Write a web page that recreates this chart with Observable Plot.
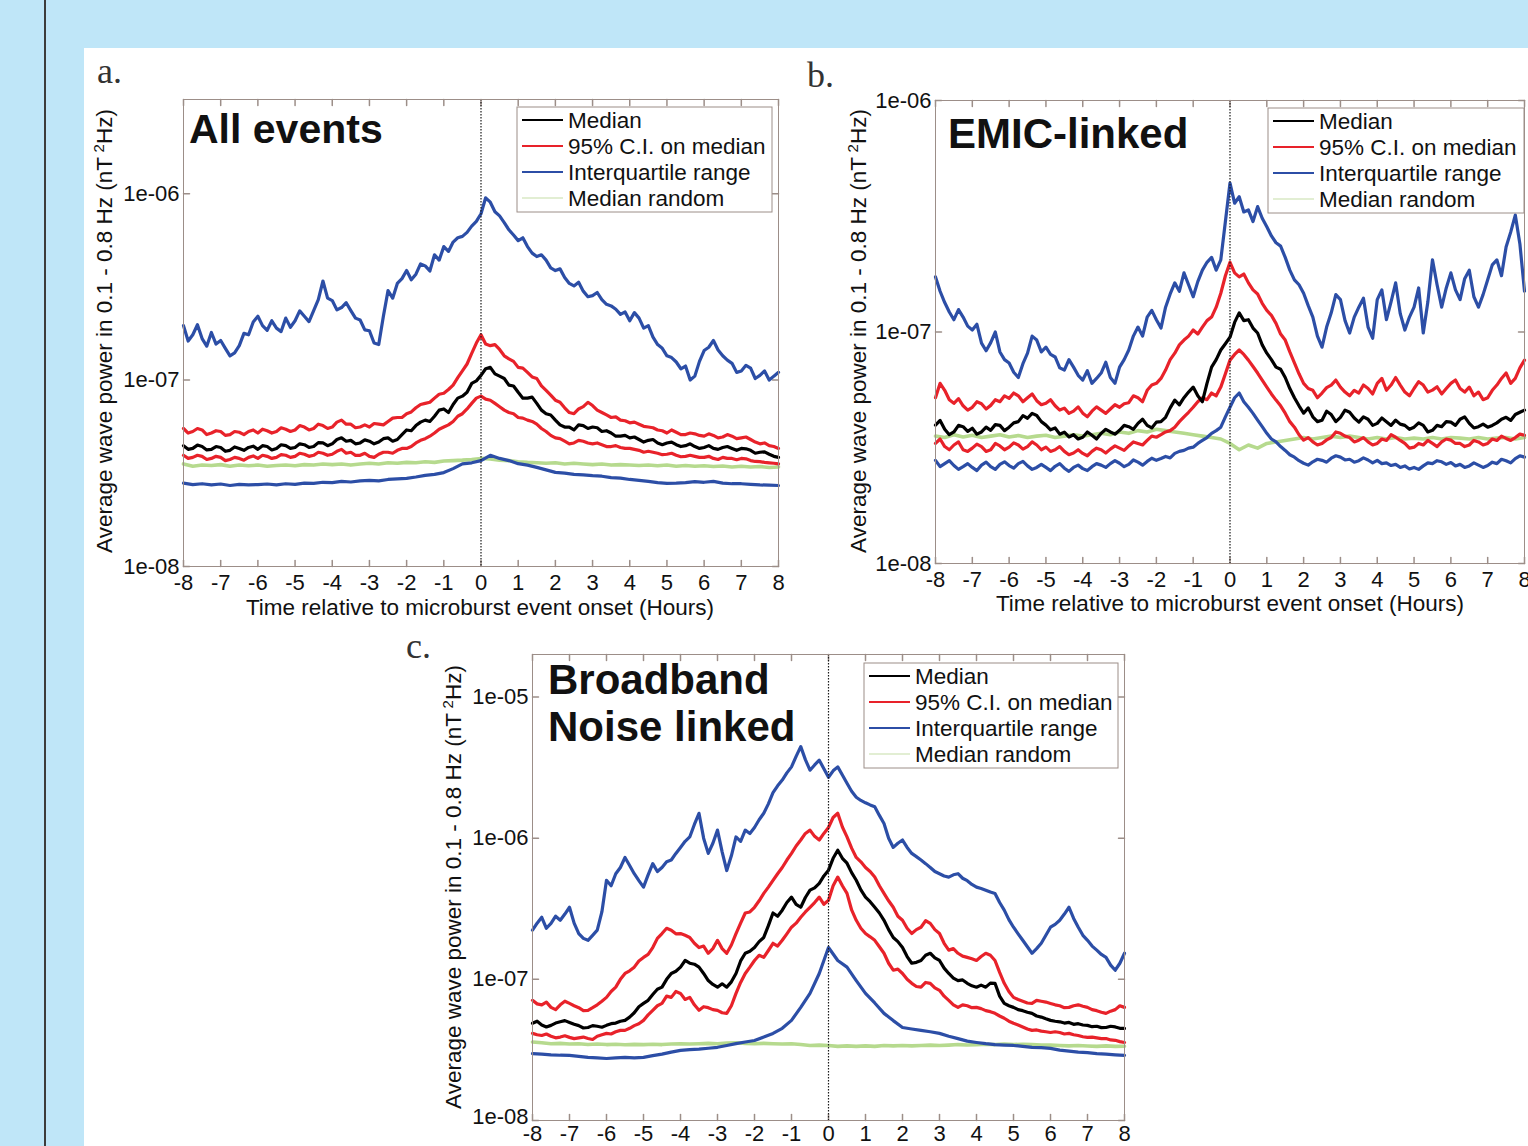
<!DOCTYPE html>
<html>
<head>
<meta charset="utf-8">
<script src="https://cdn.jsdelivr.net/npm/d3@7"></script>
<script src="https://cdn.jsdelivr.net/npm/@observablehq/plot@0.6"></script>
<style>
  html, body { margin: 0; padding: 0; }
  body { width: 1528px; height: 1146px; overflow: hidden; position: relative; background: #bfe6f8; }
  #rule { position: absolute; left: 44px; top: 0; width: 2px; height: 1146px; background: #3c3c3c; }
  #sheet { position: absolute; left: 84px; top: 48px; width: 1444px; height: 1098px; background: #ffffff; }
  .plot { position: absolute; }
  #overlay { position: absolute; left: 0; top: 0; pointer-events: none; }
</style>
</head>
<body>
<div id="rule"></div>
<div id="sheet"></div>
<script>
// Wave power (0.1 - 0.8 Hz) around microburst onsets, in units of 1e-8 nT^2/Hz.
// Each series is sampled evenly from -8 h to +8 h (65 samples = every 15 min,
// 129 samples = every 7.5 min).
const UNIT = 1e-8;
const hourTicks = d3.range(-8, 9, 1);

// a. All events
const allMedian = [
  4.45, 4.25, 4.3, 4.48, 4.4, 4.22, 4.25, 4.4, 4.35, 4.15, 4.2, 4.38, 4.3, 4.2, 4.35, 4.42,
  4.25, 4.45, 4.4, 4.22, 4.3, 4.5, 4.45, 4.3, 4.35, 4.55, 4.5, 4.35, 4.4, 4.62, 4.6, 4.45,
  4.55, 4.8, 4.9, 4.7, 4.75, 4.55, 4.6, 4.78, 4.7, 4.55, 4.65, 4.85, 4.9, 4.7, 4.8, 5.1,
  5.4, 5.35, 5.7, 5.95, 6.1, 6.0, 6.4, 6.9, 7.0, 6.7, 7.4, 8.0, 8.2, 8.6, 9.6, 9.9,
  10.6, 11.5, 11.7, 10.8, 10.5, 10.2, 9.4, 9.3, 8.6, 8.0, 8.0, 8.1, 7.5, 6.9, 6.6, 6.5,
  6.1, 5.75, 5.6, 5.6, 5.4, 5.75, 5.7, 5.5, 5.6, 5.55, 5.3, 5.35, 5.2, 5.0, 5.0, 5.05,
  4.9, 4.95, 4.8, 4.65, 4.75, 4.8, 4.6, 4.5, 4.6, 4.65, 4.5, 4.4, 4.45, 4.55, 4.4, 4.3,
  4.35, 4.45, 4.3, 4.25, 4.35, 4.4, 4.3, 4.2, 4.3, 4.28, 4.2, 4.05, 4.1, 4.12, 4.0, 3.9,
  3.85];
const allCiHigh = [
  5.5, 5.2, 5.3, 5.5, 5.4, 5.1, 5.2, 5.35, 5.3, 5.05, 5.1, 5.3, 5.25, 5.1, 5.3, 5.4,
  5.2, 5.45, 5.35, 5.2, 5.3, 5.55, 5.45, 5.3, 5.4, 5.7, 5.6, 5.4, 5.5, 5.8, 5.7, 5.5,
  5.6, 5.95, 6.1, 5.8, 5.8, 5.55, 5.6, 5.75, 5.6, 5.85, 5.8, 5.75, 6.0, 6.25, 6.3, 6.3,
  6.6, 6.75, 7.1, 7.4, 7.5, 7.6, 8.0, 8.4, 8.5, 8.9, 9.4, 10.3, 11.2, 12.2, 13.9, 15.8,
  17.5, 15.6, 15.3, 15.5, 14.6, 13.5, 13.0, 12.6, 11.7, 11.6, 11.0, 10.4, 10.2, 9.3, 8.8, 8.3,
  7.8, 7.6, 7.1, 6.7, 6.6, 7.0, 7.2, 7.6, 7.3, 6.9, 6.7, 6.5, 6.3, 6.35, 6.1, 6.05,
  5.9, 5.95, 5.8, 5.65, 5.6, 5.55, 5.4, 5.35, 5.2, 5.4, 5.25, 5.1, 5.1, 5.2, 5.15, 5.05,
  5.0, 5.15, 5.05, 4.9, 4.95, 5.1, 5.0, 4.85, 4.9, 4.95, 4.8, 4.65, 4.55, 4.6, 4.45, 4.4,
  4.3];
const allCiLow = [
  3.95, 3.8, 3.85, 3.95, 3.9, 3.75, 3.8, 3.9, 3.85, 3.7, 3.75, 3.85, 3.8, 3.72, 3.85, 3.92,
  3.8, 3.95, 3.9, 3.8, 3.85, 3.98, 3.95, 3.85, 3.9, 4.05, 4.0, 3.9, 3.95, 4.1, 4.05, 3.95,
  4.0, 4.15, 4.25, 4.05, 4.1, 3.95, 3.95, 4.05, 3.9, 3.85, 4.0, 4.1, 4.1, 4.05, 4.2, 4.3,
  4.3, 4.4, 4.6, 4.75, 4.85, 5.0, 5.2, 5.45, 5.6, 5.75, 6.0, 6.4, 6.6, 7.0, 7.5, 8.0,
  8.2, 7.9, 7.8, 7.5, 7.2, 6.9, 6.7, 6.6, 6.3, 6.25, 6.1, 6.0, 5.8, 5.5, 5.3, 5.05,
  4.9, 4.85, 4.7, 4.55, 4.6, 4.75, 4.7, 4.6, 4.55, 4.6, 4.5, 4.4, 4.4, 4.45, 4.35, 4.3,
  4.3, 4.25, 4.2, 4.1, 4.15, 4.1, 4.05, 3.98, 4.0, 4.05, 3.95, 3.88, 3.9, 3.95, 3.9, 3.85,
  3.85, 3.9, 3.8, 3.75, 3.85, 3.8, 3.8, 3.74, 3.8, 3.78, 3.7, 3.66, 3.65, 3.62, 3.6, 3.58,
  3.55];
const allIqrLow = [
  2.8, 2.75, 2.78, 2.74, 2.77, 2.72, 2.76, 2.74,
  2.75, 2.77, 2.74, 2.78, 2.76, 2.8, 2.79, 2.83,
  2.82, 2.86, 2.84, 2.88, 2.9, 2.88, 2.93, 2.95,
  2.97, 3.02, 3.08, 3.12, 3.19, 3.35, 3.55, 3.6,
  3.7, 3.95, 3.8, 3.7, 3.56, 3.5, 3.4, 3.3,
  3.2, 3.17, 3.12, 3.1, 3.07, 3.05, 3.0, 2.98,
  2.93, 2.9, 2.86, 2.82, 2.79, 2.8, 2.82, 2.85,
  2.83, 2.86, 2.8, 2.78, 2.78, 2.76, 2.74, 2.73,
  2.72];
const allIqrHigh = [
  19.6, 16.2, 17.5, 19.8, 16.7, 15.2, 18.0, 15.6, 16.3, 14.8, 13.5, 14.0, 15.3, 17.8, 17.5, 20.5,
  22.0, 19.6, 18.5, 20.8, 19.0, 18.2, 21.5, 19.2, 20.8, 23.5, 22.0, 20.6, 23.6, 27.0, 34.0, 27.5,
  26.7, 23.8, 24.5, 26.0, 23.6, 21.5, 21.0, 18.6, 18.4, 15.8, 15.5, 22.0, 30.2, 27.5, 33.0, 35.0,
  38.7, 34.5, 37.0, 42.0, 41.0, 38.5, 47.0, 44.0, 52.0, 49.0, 55.0, 58.0, 59.0, 62.0, 67.0, 71.0,
  78.0, 95.0, 90.0, 80.0, 76.0, 70.0, 64.0, 60.0, 56.0, 58.0, 52.0, 48.0, 46.0, 47.0, 44.0, 40.0,
  38.7, 39.5, 35.5, 33.0, 32.0, 33.5, 30.0, 28.0, 28.4, 29.5, 27.0, 25.5, 25.0, 24.0, 22.5, 23.2,
  20.8, 23.0, 21.5, 19.0, 19.6, 17.0, 15.5, 14.8, 13.5, 13.2, 12.5, 11.5, 11.9, 10.0, 10.5, 12.6,
  14.4, 15.0, 16.3, 14.5, 13.5, 12.8, 12.3, 11.0, 11.2, 12.0, 11.6, 10.2, 10.6, 11.2, 10.0, 10.5,
  11.0];
const allRandom = [
  3.55, 3.45, 3.5, 3.48, 3.52, 3.45, 3.5, 3.47,
  3.5, 3.45, 3.48, 3.5, 3.47, 3.52, 3.5, 3.55,
  3.52, 3.55, 3.5, 3.55, 3.58, 3.55, 3.6, 3.58,
  3.62, 3.6, 3.65, 3.62, 3.68, 3.7, 3.72, 3.75,
  3.8, 3.78, 3.72, 3.7, 3.65, 3.62, 3.6, 3.58,
  3.6, 3.55, 3.58, 3.55, 3.52, 3.55, 3.5, 3.52,
  3.5, 3.48, 3.5, 3.47, 3.5, 3.45, 3.48, 3.45,
  3.47, 3.44, 3.46, 3.42, 3.45, 3.42, 3.44, 3.4,
  3.42];

// b. EMIC-linked
const emicMedian = [
  3.96, 4.15, 3.8, 3.6, 3.7, 3.95, 3.9, 3.72, 3.84, 3.62, 3.7, 3.88, 3.76, 3.98, 3.95, 3.75,
  3.88, 4.05, 4.1, 4.35, 4.24, 4.45, 4.36, 4.1, 3.96, 3.78, 3.85, 3.62, 3.69, 3.52, 3.6, 3.45,
  3.51, 3.7, 3.58, 3.45, 3.65, 3.8, 3.7, 3.62, 3.76, 3.95, 3.9, 3.8, 4.03, 4.2, 3.95, 3.85,
  4.08, 4.1, 4.28, 4.7, 5.08, 4.85, 5.2, 5.5, 5.78, 5.3, 5.0, 6.0, 7.05, 7.6, 8.36, 8.9,
  9.5, 11.0, 12.1, 11.2, 11.3, 10.4, 9.9, 8.8, 8.1, 7.6, 7.05, 6.9, 6.36, 5.7, 5.2, 4.8,
  4.46, 4.7, 4.3, 4.1, 4.16, 4.55, 4.4, 4.1, 4.28, 4.6, 4.5, 4.25, 4.08, 4.3, 4.2, 3.95,
  4.03, 4.25, 4.1, 3.95, 4.16, 4.0, 3.95, 3.8, 3.88, 4.05, 3.95, 3.7, 3.76, 3.95, 3.9, 4.1,
  4.08, 3.95, 4.2, 4.3, 4.03, 3.85, 3.9, 4.0, 3.88, 3.95, 4.05, 4.2, 4.28, 4.15, 4.4, 4.5,
  4.6];
const emicCiHigh = [
  5.2, 6.0, 5.6, 5.1, 4.92, 5.15, 4.8, 4.6, 4.73, 5.0, 4.9, 4.65, 4.82, 5.1, 5.0, 5.3,
  5.17, 5.45, 5.3, 5.0, 5.2, 5.4, 5.05, 4.85, 4.92, 5.1, 4.8, 4.6, 4.69, 4.45, 4.55, 4.75,
  4.46, 4.3, 4.55, 4.75, 4.6, 4.45, 4.65, 4.85, 4.73, 4.9, 4.95, 5.3, 5.2, 5.0, 5.6, 5.9,
  6.0, 6.3, 6.85, 7.6, 8.1, 8.8, 9.23, 9.6, 10.2, 9.8, 10.5, 11.2, 11.6, 12.8, 14.7, 17.5,
  20.0, 18.0, 17.3, 17.8, 16.3, 15.2, 14.6, 13.3, 12.4, 11.8, 10.9, 9.8, 9.23, 8.2, 7.35, 6.6,
  6.0, 5.7, 5.6, 5.2, 5.45, 5.75, 5.9, 6.2, 5.78, 5.5, 5.3, 5.6, 5.45, 5.9, 5.7, 5.4,
  6.0, 6.3, 5.6, 5.9, 6.36, 5.9, 5.5, 5.3, 5.7, 6.1, 5.9, 5.5, 5.61, 5.8, 5.4, 5.7,
  6.0, 6.2, 5.7, 5.5, 5.78, 5.3, 5.5, 5.1, 5.2, 5.6, 5.9, 6.3, 6.65, 6.0, 6.3, 7.0,
  7.56];
const emicCiLow = [
  3.3, 3.45, 3.2, 3.1, 3.25, 3.35, 3.1, 3.05, 3.15, 3.28, 3.2, 3.05, 3.1, 3.3, 3.22, 3.1,
  3.18, 3.32, 3.25, 3.12, 3.2, 3.35, 3.25, 3.1, 3.18, 3.05, 3.1, 3.2, 3.05, 2.95, 3.0, 3.1,
  2.99, 2.92, 3.05, 3.15, 3.1, 3.0, 3.12, 3.22, 3.15, 3.08, 3.22, 3.35, 3.3, 3.25, 3.4, 3.55,
  3.51, 3.6, 3.7, 3.75, 3.88, 4.1, 4.3, 4.5, 4.73, 5.0, 5.2, 5.1, 5.45, 5.3, 5.78, 6.6,
  7.56, 8.0, 8.36, 8.0, 7.56, 7.1, 6.65, 6.2, 5.78, 5.4, 5.08, 4.8, 4.46, 4.1, 3.88, 3.6,
  3.41, 3.5, 3.35, 3.25, 3.3, 3.42, 3.5, 3.7, 3.65, 3.55, 3.5, 3.35, 3.41, 3.5, 3.35, 3.25,
  3.3, 3.45, 3.4, 3.6, 3.51, 3.4, 3.3, 3.15, 3.18, 3.3, 3.25, 3.4, 3.3, 3.2, 3.35, 3.45,
  3.41, 3.3, 3.3, 3.2, 3.25, 3.4, 3.35, 3.25, 3.3, 3.45, 3.4, 3.55, 3.47, 3.4, 3.5, 3.62,
  3.58];
const emicIqrLow = [
  2.79, 2.62, 2.7, 2.78, 2.65, 2.55, 2.62, 2.7, 2.6, 2.52, 2.66, 2.74, 2.62, 2.55, 2.68, 2.75,
  2.65, 2.58, 2.7, 2.76, 2.64, 2.55, 2.6, 2.68, 2.6, 2.52, 2.63, 2.7, 2.58, 2.5, 2.6, 2.66,
  2.57, 2.52, 2.62, 2.7, 2.66, 2.6, 2.7, 2.78, 2.71, 2.62, 2.68, 2.8, 2.74, 2.66, 2.76, 2.85,
  2.79, 2.84, 2.9, 2.86, 2.99, 3.05, 3.08, 3.15, 3.18, 3.3, 3.4, 3.5, 3.65, 3.75, 3.88, 4.3,
  4.73, 5.2, 5.45, 5.0, 4.73, 4.45, 4.16, 3.9, 3.65, 3.45, 3.35, 3.2, 3.08, 2.95, 2.88, 2.78,
  2.71, 2.66, 2.75, 2.82, 2.79, 2.74, 2.85, 2.92, 2.88, 2.8, 2.82, 2.74, 2.78, 2.86, 2.8, 2.72,
  2.79, 2.7, 2.72, 2.65, 2.68, 2.6, 2.64, 2.56, 2.6, 2.55, 2.64, 2.72, 2.7, 2.78, 2.75, 2.68,
  2.73, 2.64, 2.68, 2.6, 2.64, 2.72, 2.66, 2.6, 2.65, 2.74, 2.7, 2.82, 2.78, 2.72, 2.84, 2.92,
  2.88];
const emicIqrHigh = [
  17.3, 15.0, 13.4, 12.2, 11.3, 12.5, 11.6, 10.6, 10.2, 10.8, 8.95, 8.3, 9.0, 10.0, 8.2, 7.6,
  7.35, 6.7, 6.36, 7.3, 8.1, 9.6, 9.23, 8.2, 8.6, 8.0, 7.8, 7.0, 6.85, 7.6, 7.05, 6.5,
  6.2, 6.8, 6.0, 6.3, 6.65, 7.4, 6.36, 6.0, 7.05, 7.6, 8.36, 9.6, 10.5, 9.6, 11.6, 12.4,
  11.3, 10.4, 12.8, 14.6, 16.3, 15.0, 18.0, 16.0, 14.2, 16.5, 18.5, 20.0, 21.0, 18.5, 20.5, 30.0,
  44.0, 36.0, 38.4, 33.0, 33.7, 30.0, 34.8, 31.0, 28.5, 26.0, 24.3, 23.5, 21.0, 18.5, 16.8, 16.0,
  14.7, 13.0, 11.6, 9.6, 8.6, 10.5, 12.1, 14.5, 13.8, 11.2, 9.9, 11.6, 12.8, 14.0, 10.5, 9.4,
  13.8, 15.2, 11.3, 13.5, 16.3, 12.0, 10.2, 11.6, 12.8, 15.5, 9.9, 13.5, 20.5, 16.0, 12.8, 15.5,
  18.0, 15.2, 13.8, 17.0, 18.5, 14.2, 12.8, 14.5, 16.8, 19.5, 20.5, 17.5, 23.3, 27.0, 32.0, 24.0,
  15.0];
const emicRandom = [
  3.55, 3.5, 3.6, 3.52, 3.58, 3.5, 3.55, 3.6,
  3.52, 3.57, 3.5, 3.55, 3.58, 3.5, 3.55, 3.6,
  3.55, 3.6, 3.65, 3.6, 3.7, 3.65, 3.75, 3.7,
  3.8, 3.75, 3.7, 3.65, 3.6, 3.55, 3.5, 3.45,
  3.3, 3.1, 3.25, 3.15, 3.3, 3.35, 3.4, 3.45,
  3.5, 3.45, 3.5, 3.55, 3.5, 3.55, 3.5, 3.45,
  3.5, 3.45, 3.5, 3.45, 3.48, 3.45, 3.5, 3.45,
  3.5, 3.48, 3.45, 3.5, 3.45, 3.48, 3.5, 3.45,
  3.5];

// c. Broadband noise linked
const bbMedian = [
  4.88, 5.05, 4.75, 4.6, 4.72, 4.9, 5.0, 5.1, 4.95, 4.8, 4.7, 4.52, 4.56, 4.7, 4.65, 4.58,
  4.72, 4.85, 4.9, 5.05, 5.12, 5.4, 5.8, 6.4, 6.75, 7.1, 7.8, 8.5, 8.8, 10.0, 11.0, 11.4,
  12.2, 13.6, 13.0, 12.8, 12.2, 11.0, 9.8, 9.2, 8.8, 9.3, 8.8, 9.6, 11.0, 13.5, 15.3, 15.8,
  16.8, 18.5, 19.8, 24.0, 29.5, 28.0, 30.9, 35.0, 38.2, 34.0, 32.4, 38.0, 42.8, 44.5, 47.9, 54.0,
  59.3, 72.0, 82.2, 72.0, 66.5, 57.0, 50.3, 43.0, 38.2, 35.5, 32.4, 29.5, 26.2, 22.5, 19.8, 18.5,
  16.8, 14.5, 13.0, 13.2, 13.6, 14.8, 15.3, 14.2, 13.6, 12.0, 11.0, 10.2, 9.8, 9.9, 9.37, 9.0,
  8.8, 9.1, 8.8, 9.4, 9.37, 7.6, 6.75, 6.5, 6.33, 6.1, 6.0, 5.85, 5.74, 5.5, 5.4, 5.25,
  5.12, 5.05, 5.0, 4.9, 4.95, 4.8, 4.85, 4.75, 4.72, 4.62, 4.65, 4.55, 4.56, 4.65, 4.6, 4.5,
  4.49];
const bbCiHigh = [
  7.1, 6.7, 6.6, 6.9, 6.33, 6.1, 6.6, 7.0, 6.75, 6.5, 6.3, 6.0, 6.03, 6.3, 6.6, 7.0,
  7.45, 8.2, 8.8, 10.0, 11.0, 11.5, 12.2, 13.5, 14.3, 15.0, 16.8, 19.5, 21.1, 23.0, 22.3, 21.0,
  21.1, 20.5, 19.8, 18.0, 16.8, 17.2, 15.3, 16.5, 18.9, 16.5, 15.3, 17.5, 21.1, 25.0, 29.5, 30.0,
  32.4, 36.0, 40.6, 45.0, 50.3, 56.0, 62.0, 70.0, 78.0, 88.0, 97.0, 108, 114, 103, 97.0, 108,
  119, 140, 150, 120, 102, 85.0, 73.0, 68.0, 62.0, 58.0, 53.0, 46.0, 40.6, 36.0, 32.4, 28.0,
  26.2, 23.0, 21.1, 22.5, 23.4, 26.0, 24.9, 22.5, 21.1, 18.0, 16.1, 16.5, 15.3, 14.6, 14.3, 14.0,
  13.6, 14.5, 15.3, 14.8, 13.6, 11.2, 9.37, 8.2, 7.45, 7.2, 7.0, 6.8, 6.75, 7.1, 7.0, 6.9,
  6.75, 6.6, 6.5, 6.3, 6.33, 6.5, 6.6, 6.45, 6.33, 6.1, 6.0, 5.85, 5.74, 5.95, 6.1, 6.5,
  6.33];
const bbCiLow = [
  4.14, 4.05, 4.0, 4.1, 3.95, 3.85, 3.9, 3.98, 3.88, 3.8, 3.85, 3.9, 3.81, 3.75, 3.95, 4.05,
  4.14, 4.1, 4.25, 4.35, 4.35, 4.5, 4.7, 4.85, 5.12, 5.6, 6.03, 6.5, 6.75, 7.6, 7.45, 8.2,
  7.95, 7.2, 7.45, 6.6, 6.03, 6.4, 6.3, 6.1, 6.03, 5.8, 5.74, 6.5, 7.95, 9.5, 11.0, 12.2,
  13.6, 14.8, 14.3, 16.0, 18.0, 17.2, 18.9, 21.0, 23.4, 25.0, 27.5, 30.0, 32.4, 35.0, 38.2, 34.0,
  36.3, 46.0, 53.0, 46.0, 40.6, 31.0, 26.2, 23.0, 21.1, 20.0, 18.9, 17.0, 15.3, 13.0, 11.6, 11.8,
  11.0, 10.0, 9.37, 8.9, 8.8, 9.5, 9.37, 8.7, 8.36, 7.6, 7.1, 6.6, 6.33, 6.6, 6.5, 6.3,
  6.33, 6.2, 6.0, 5.9, 5.74, 5.5, 5.3, 5.05, 4.88, 4.75, 4.6, 4.45, 4.35, 4.38, 4.3, 4.25,
  4.2, 4.25, 4.2, 4.1, 4.14, 4.05, 4.0, 3.92, 3.88, 3.9, 3.85, 3.8, 3.81, 3.72, 3.7, 3.62,
  3.57];
const bbIqrLow = [
  2.98, 2.95, 2.92, 2.9, 2.89, 2.85, 2.8, 2.78,
  2.75, 2.78, 2.8, 2.78, 2.8, 2.88, 2.95, 3.05,
  3.14, 3.18, 3.2, 3.25, 3.3, 3.4, 3.5, 3.6,
  3.69, 3.9, 4.14, 4.5, 5.12, 6.33, 7.95, 11.0,
  16.8, 13.6, 12.2, 9.8, 7.95, 6.8, 5.74, 5.1,
  4.56, 4.45, 4.35, 4.25, 4.14, 3.95, 3.8, 3.65,
  3.57, 3.5, 3.45, 3.42, 3.4, 3.35, 3.3, 3.28,
  3.24, 3.15, 3.1, 3.05, 3.03, 2.98, 2.95, 2.92,
  2.89];
const bbIqrHigh = [
  22.3, 25.0, 27.5, 23.0, 24.9, 28.0, 26.2, 29.0, 32.4, 25.0, 21.1, 19.5, 18.9, 20.5, 22.3, 30.0,
  50.3, 46.0, 56.0, 62.0, 73.0, 64.0, 56.0, 50.0, 45.0, 55.0, 66.0, 58.0, 62.0, 68.0, 70.0, 78.0,
  86.0, 95.0, 102, 125, 150, 100, 78.0, 92.0, 114, 80.0, 59.0, 75.0, 102, 95.0, 114, 108,
  119, 135, 150, 175, 210, 235, 258, 290, 320, 380, 445, 360, 303, 330, 357, 310,
  270, 300, 320, 280, 245, 215, 195, 185, 178, 172, 167, 145, 127, 100, 86.0, 92.0,
  97.0, 86.0, 78.0, 74.0, 70.0, 66.0, 62.0, 58.0, 56.0, 54.0, 53.0, 55.0, 56.0, 52.0, 50.0, 47.0,
  45.0, 44.0, 42.8, 41.5, 40.6, 35.0, 30.9, 26.5, 23.4, 21.0, 18.9, 17.0, 15.3, 16.5, 18.0, 20.5,
  23.4, 24.5, 26.2, 29.0, 32.4, 27.0, 23.4, 20.5, 18.9, 17.2, 16.1, 15.0, 14.3, 12.6, 11.6, 13.0,
  15.3];
const bbRandom = [
  3.6, 3.55, 3.5, 3.52, 3.48, 3.5, 3.45, 3.48,
  3.45, 3.47, 3.44, 3.46, 3.45, 3.47, 3.45, 3.48,
  3.5, 3.48, 3.5, 3.52, 3.5, 3.53, 3.55, 3.52,
  3.5, 3.52, 3.5, 3.48, 3.5, 3.45, 3.4, 3.42,
  3.4, 3.35, 3.38, 3.35, 3.38, 3.35, 3.4, 3.38,
  3.4, 3.38, 3.4, 3.42, 3.4, 3.42, 3.45, 3.43,
  3.45, 3.47, 3.45, 3.48, 3.45, 3.47, 3.45, 3.43,
  3.42, 3.4, 3.38, 3.4, 3.37, 3.35, 3.38, 3.35,
  3.36];

const legendLabels = ["Median", "95% C.I. on median", "Interquartile range", "Median random"];

// ---- styling ----
const SANS = "'Liberation Sans', Arial, Helvetica, sans-serif";
const SERIF = "'Liberation Serif', 'Times New Roman', serif";
const FRAME = "#9c8e88";
const INK = "#111111";
const COLOR = {median: "#000000", ci: "#e8222a", iqr: "#2c4ea6", random: "#b6da8e"};
const LEGEND_SWATCH = [COLOR.median, COLOR.ci, COLOR.iqr, "#e2eed3"];

const expLabel = d => "1e-" + String(-Math.round(Math.log10(d))).padStart(2, "0");
const tickShape = {draw(context, l) { context.moveTo(0, 0); context.lineTo(0, -l); }};

// a series of n evenly spaced samples spans -8 h .. +8 h
function powerLine(values, stroke, width = 3.2) {
  const step = 16 / (values.length - 1);
  return Plot.line(values, {
    x: (d, i) => -8 + i * step,
    y: d => d * UNIT,
    stroke, strokeWidth: width, strokeLinejoin: "round", strokeLinecap: "round"
  });
}

function drawPanel(p) {
  const [y0, y1] = p.yDomain;
  const chart = Plot.plot({
    width: p.width,
    height: p.height,
    marginLeft: p.frame.left - p.left,
    marginRight: p.left + p.width - p.frame.right,
    marginTop: p.frame.top - p.top,
    marginBottom: p.top + p.height - p.frame.bottom,
    style: {fontFamily: SANS, fontSize: "22px", color: INK, background: "transparent", overflow: "visible"},
    x: {domain: [-8, 8], label: null},
    y: {type: "log", domain: p.yDomain, label: null},
    marks: [
      Plot.axisX(hourTicks, {anchor: "bottom", tickSize: 0, tickPadding: p.xPad, tickFormat: d => String(d), label: null}),
      Plot.axisY(p.yTicks.slice(1), {anchor: "left", tickSize: 0, tickPadding: 4, tickFormat: expLabel, label: null}),
      // the lowest decade label sits just above the corner
      Plot.axisY(p.yTicks.slice(0, 1), {anchor: "left", tickSize: 0, tickPadding: 4, tickFormat: expLabel, label: null, dy: p.floorDy}),
      // inward tick marks on all four sides
      Plot.vector(hourTicks, {x: d => d, y: () => y0, length: 6, rotate: 0, anchor: "start", shape: tickShape, stroke: FRAME}),
      Plot.vector(hourTicks, {x: d => d, y: () => y1, length: 6, rotate: 180, anchor: "start", shape: tickShape, stroke: FRAME}),
      Plot.vector(p.yTicks, {x: () => -8, y: d => d, length: 6, rotate: 90, anchor: "start", shape: tickShape, stroke: FRAME}),
      Plot.vector(p.yTicks, {x: () => 8, y: d => d, length: 6, rotate: -90, anchor: "start", shape: tickShape, stroke: FRAME}),
      powerLine(p.series.random, COLOR.random, 3.6),
      powerLine(p.series.iqrLow, COLOR.iqr),
      powerLine(p.series.iqrHigh, COLOR.iqr),
      powerLine(p.series.ciLow, COLOR.ci),
      powerLine(p.series.ciHigh, COLOR.ci),
      powerLine(p.series.median, COLOR.median),
      Plot.ruleX([0], {stroke: "#1a1a1a", strokeWidth: 1.2, strokeDasharray: "1.5,1.5"}),
      Plot.frame({stroke: FRAME, strokeWidth: 1})
    ]
  });
  chart.classList.add("plot");
  chart.style.left = p.left + "px";
  chart.style.top = p.top + "px";
  document.body.appendChild(chart);
}

const panels = [
  {
    left: 90, top: 60, width: 710, height: 580, xPad: 8, floorDy: 0,
    frame: {left: 183, right: 778, top: 99, bottom: 566},
    yDomain: [1e-8, 3.2e-6], yTicks: [1e-8, 1e-7, 1e-6],
    series: {median: allMedian, ciHigh: allCiHigh, ciLow: allCiLow, iqrHigh: allIqrHigh, iqrLow: allIqrLow, random: allRandom}
  },
  {
    left: 860, top: 60, width: 668, height: 580, xPad: 8, floorDy: 0,
    frame: {left: 935, right: 1524, top: 100, bottom: 563},
    yDomain: [1e-8, 1e-6], yTicks: [1e-8, 1e-7, 1e-6],
    series: {median: emicMedian, ciHigh: emicCiHigh, ciLow: emicCiLow, iqrHigh: emicIqrHigh, iqrLow: emicIqrLow, random: emicRandom}
  },
  {
    left: 440, top: 620, width: 700, height: 526, xPad: 5, floorDy: -4,
    frame: {left: 532, right: 1124, top: 654, bottom: 1120},
    yDomain: [1e-8, 2e-5], yTicks: [1e-8, 1e-7, 1e-6, 1e-5],
    series: {median: bbMedian, ciHigh: bbCiHigh, ciLow: bbCiLow, iqrHigh: bbIqrHigh, iqrLow: bbIqrLow, random: bbRandom}
  }
];

panels.forEach(drawPanel);

// ---- titles, axis captions and legends ----
const overlay = d3.select("body").append("svg")
  .attr("id", "overlay").attr("width", 1528).attr("height", 1146)
  .style("font-family", SANS).attr("fill", INK);

function text(x, y, str, size, opts = {}) {
  return overlay.append("text")
    .attr("x", x).attr("y", y)
    .attr("font-size", size)
    .attr("font-weight", opts.weight || "normal")
    .attr("font-family", opts.family || SANS)
    .attr("text-anchor", opts.anchor || "start")
    .attr("fill", opts.fill || INK)
    .text(str);
}

function yCaption(cx, cy) {
  const t = overlay.append("text")
    .attr("transform", `translate(${cx},${cy}) rotate(-90)`)
    .attr("text-anchor", "middle").attr("dy", "0.35em").attr("font-size", 22.5);
  t.append("tspan").text("Average wave power in 0.1 - 0.8 Hz (nT\u2009");
  t.append("tspan").attr("dy", -8).attr("font-size", 15).text("2");
  t.append("tspan").attr("dy", 8).text("Hz)");
}

function legend(x, y, w) {
  const h = 105, rowGap = 26;
  overlay.append("rect").attr("x", x).attr("y", y).attr("width", w).attr("height", h)
    .attr("fill", "#ffffff").attr("stroke", FRAME).attr("stroke-width", 1);
  legendLabels.forEach((label, i) => {
    const cy = y + 13 + i * rowGap;
    overlay.append("line").attr("x1", x + 5).attr("x2", x + 46).attr("y1", cy).attr("y2", cy)
      .attr("stroke", LEGEND_SWATCH[i]).attr("stroke-width", 2);
    text(x + 51, cy + 8, label, 22.5);
  });
}

// panel letters
text(97, 83, "a.", 36, {family: SERIF, fill: "#333"});
text(807, 87, "b.", 36, {family: SERIF, fill: "#333"});
text(406, 658, "c.", 36, {family: SERIF, fill: "#333"});

// panel titles
text(189, 143, "All events", 41, {weight: "bold"});
text(948, 148, "EMIC-linked", 42, {weight: "bold"});
text(548, 694, "Broadband", 42, {weight: "bold"});
text(548, 741, "Noise linked", 42, {weight: "bold"});

// axis captions
text(480, 615, "Time relative to microburst event onset (Hours)", 22.5, {anchor: "middle"});
text(1230, 611, "Time relative to microburst event onset (Hours)", 22.5, {anchor: "middle"});
yCaption(104, 331);
yCaption(858, 331);
yCaption(453, 887);

legend(517, 107, 255);
legend(1268, 108, 256);
legend(864, 663, 254);
</script>
</body>
</html>
